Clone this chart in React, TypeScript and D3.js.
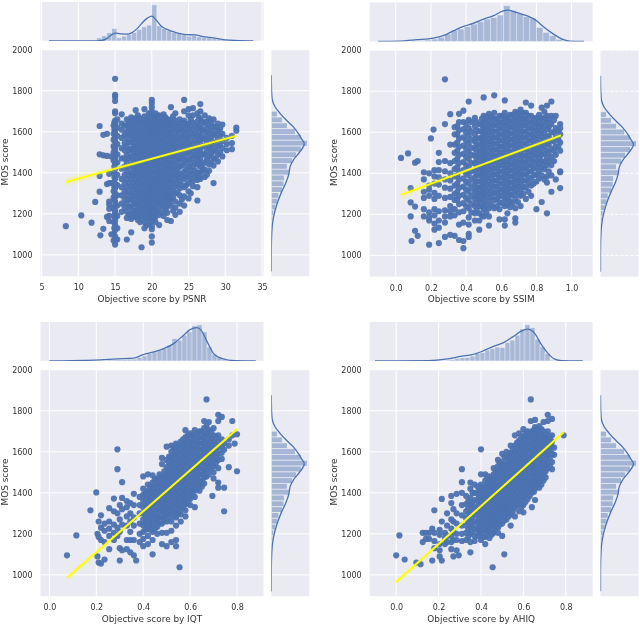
import React, { useEffect, useRef } from "react";
import * as d3 from "d3";

// each row: x value, then the MOS values read at that x
const psnrPoints: number[][] = [
  [8.3, 1140], [10.4, 1192], [11.8, 1157], [12.3, 1258], [12.9, 1628, 1490, 1385, 1308], [13, 1095], [13.4, 1585, 1485, 1127],
  [13.9, 1590, 1482, 1345, 1185], [14.2, 1395, 1350, 1260, 1245, 1225, 1190, 1165], [14.5, 1480, 1350, 1100],
  [14.8, 1630, 1590, 1560, 1530, 1500, 1460, 1400, 1350, 1310, 1280, 1230, 1160, 1100, 1070],
  [15, 1858, 1780, 1770, 1750, 1700, 1690, 1655, 1640, 1620, 1600, 1575, 1555, 1530, 1510, 1490, 1470, 1445, 1420, 1395, 1370, 1345, 1325, 1300, 1285, 1260, 1240, 1215, 1200, 1180, 1165, 1145, 1120, 1090, 1070, 1050],
  [15.3, 1660, 1620, 1580, 1540, 1490, 1450, 1390, 1340, 1290, 1240, 1190, 1130, 1075],
  [15.9, 1685, 1640, 1610, 1570, 1520, 1470, 1420, 1370, 1330, 1290, 1250, 1210],
  [16.6, 1660, 1630, 1600, 1570, 1530, 1490, 1450, 1410, 1370, 1330, 1290, 1250, 1210, 1180, 1075],
  [17.2, 1670, 1640, 1610, 1580, 1550, 1515, 1480, 1440, 1400, 1370, 1335, 1300, 1270, 1235, 1200, 1175, 1110],
  [17.8, 1705, 1665, 1635, 1605, 1575, 1545, 1515, 1485, 1455, 1425, 1395, 1365, 1335, 1305, 1275, 1245, 1215, 1185],
  [18.4, 1665, 1640, 1610, 1580, 1550, 1520, 1490, 1460, 1430, 1400, 1370, 1340, 1310, 1280, 1250, 1220, 1190, 1160],
  [18.6, 1037],
  [19, 1710, 1675, 1645, 1615, 1585, 1555, 1525, 1495, 1465, 1435, 1405, 1375, 1345, 1315, 1285, 1255, 1225, 1195, 1160, 1130],
  [19.6, 1690, 1660, 1630, 1600, 1570, 1540, 1510, 1480, 1450, 1420, 1390, 1360, 1330, 1300, 1270, 1240, 1210, 1180, 1150],
  [20, 1755, 1740, 1720, 1700, 1675, 1645, 1615, 1585, 1555, 1525, 1495, 1465, 1435, 1405, 1375, 1345, 1315, 1285, 1255, 1225, 1195, 1165, 1140, 1125, 1090, 1060],
  [20.5, 1690, 1660, 1630, 1600, 1570, 1540, 1510, 1480, 1450, 1420, 1390, 1360, 1330, 1300, 1270, 1240, 1210, 1185, 1160],
  [21, 1680, 1650, 1620, 1590, 1560, 1530, 1500, 1470, 1440, 1410, 1380, 1350, 1320, 1290, 1260, 1230, 1195, 1145],
  [21.6, 1685, 1655, 1625, 1595, 1565, 1535, 1505, 1475, 1445, 1415, 1385, 1355, 1325, 1295, 1265, 1235, 1190],
  [22.1, 1660, 1630, 1600, 1570, 1540, 1510, 1480, 1450, 1420, 1390, 1360, 1330, 1300, 1270, 1235, 1205, 1170],
  [22.6, 1720, 1660, 1630, 1600, 1570, 1540, 1510, 1480, 1450, 1420, 1390, 1360, 1330, 1300, 1270, 1240, 1165],
  [23.2, 1690, 1655, 1625, 1590, 1560, 1530, 1500, 1465, 1430, 1400, 1370, 1335, 1300, 1260, 1230, 1195],
  [23.8, 1660, 1630, 1600, 1565, 1530, 1495, 1465, 1430, 1395, 1360, 1325, 1290, 1250, 1210],
  [24.4, 1755, 1700, 1655, 1620, 1585, 1550, 1515, 1480, 1445, 1405, 1370, 1330, 1285, 1240],
  [25, 1710, 1680, 1640, 1610, 1575, 1540, 1500, 1465, 1430, 1390, 1350, 1310, 1275],
  [25.6, 1715, 1680, 1645, 1610, 1580, 1540, 1505, 1470, 1430, 1395, 1360, 1335],
  [26.2, 1690, 1650, 1615, 1580, 1545, 1510, 1475, 1440, 1400, 1365, 1330, 1265],
  [26.6, 1735, 1700, 1660, 1620, 1580, 1545, 1510, 1470, 1430, 1400, 1370],
  [27.2, 1680, 1640, 1600, 1565, 1530, 1490, 1450, 1415, 1380],
  [27.8, 1665, 1630, 1595, 1560, 1520, 1480, 1440, 1410],
  [28.4, 1660, 1620, 1585, 1545, 1505, 1470, 1435, 1350],
  [29, 1640, 1605, 1570, 1530, 1490, 1455],
  [29.6, 1635, 1590, 1555, 1520, 1480],
  [30.2, 1570, 1540, 1510],
  [30.9, 1580, 1545, 1515],
  [31.5, 1620, 1605],
];
// the solid part of the cloud
const psnrCore: number[][] = [
  [14.9, 1645, 1610, 1565, 1520, 1480, 1430, 1380, 1330, 1270, 1220, 1190, 1130],
  [16.3, 1630, 1585, 1545, 1510, 1470, 1430, 1390, 1350, 1310, 1270, 1230],
  [16.9, 1645, 1615, 1585, 1550, 1510, 1470, 1430, 1390, 1350, 1310, 1270, 1230, 1195],
  [17.5, 1655, 1625, 1595, 1565, 1530, 1500, 1460, 1420, 1385, 1350, 1320, 1285, 1250, 1215, 1190],
  [18.1, 1680, 1650, 1620, 1590, 1560, 1530, 1500, 1470, 1440, 1410, 1380, 1350, 1320, 1290, 1260, 1230, 1200, 1170],
  [18.7, 1650, 1625, 1595, 1565, 1535, 1505, 1475, 1445, 1415, 1385, 1355, 1325, 1295, 1265, 1235, 1205, 1175],
  [19.3, 1660, 1630, 1600, 1570, 1540, 1510, 1480, 1450, 1420, 1390, 1360, 1330, 1300, 1270, 1240, 1210, 1180, 1145],
  [19.8, 1675, 1645, 1615, 1585, 1555, 1525, 1495, 1465, 1435, 1405, 1375, 1345, 1315, 1285, 1255, 1225, 1195, 1165],
  [20.25, 1670, 1645, 1615, 1585, 1555, 1525, 1495, 1465, 1435, 1405, 1375, 1345, 1315, 1285, 1255, 1225, 1195, 1170],
  [20.75, 1675, 1645, 1615, 1585, 1555, 1525, 1495, 1465, 1435, 1405, 1375, 1345, 1315, 1285, 1255, 1215],
  [21.3, 1665, 1635, 1605, 1575, 1545, 1515, 1485, 1455, 1425, 1395, 1365, 1335, 1305, 1275, 1245, 1205],
  [21.85, 1670, 1640, 1610, 1580, 1550, 1520, 1490, 1460, 1430, 1400, 1370, 1340, 1310, 1280, 1250, 1220],
  [22.35, 1645, 1615, 1585, 1555, 1525, 1495, 1465, 1435, 1405, 1375, 1345, 1315, 1285, 1255],
  [22.9, 1675, 1645, 1610, 1575, 1545, 1515, 1480, 1445, 1415, 1385, 1350, 1315, 1280, 1215],
  [23.5, 1640, 1610, 1575, 1545, 1515, 1480, 1450, 1415, 1380, 1345, 1305],
  [24.1, 1645, 1610, 1575, 1540, 1505, 1470, 1435, 1385, 1340, 1270],
  [24.7, 1635, 1600, 1565, 1530, 1495, 1460, 1415, 1380, 1340],
  [25.3, 1660, 1625, 1590, 1555, 1520, 1485, 1445, 1410, 1370, 1300],
  [25.9, 1630, 1595, 1560, 1520, 1485, 1450, 1410, 1380],
  [26.4, 1670, 1630, 1595, 1560, 1525, 1490, 1455, 1380],
  [26.9, 1650, 1610, 1570, 1530, 1490, 1440, 1410],
  [27.5, 1650, 1615, 1580, 1545, 1505, 1465, 1390],
  [28.1, 1640, 1605, 1570, 1530, 1495, 1450],
  [28.7, 1625, 1590, 1550, 1515, 1470],
  [29.3, 1615, 1580, 1540, 1500],
];

const ssimPoints: number[][] = [
  [0.03, 1475], [0.07, 1497], [0.085, 1328, 1258, 1190], [0.09, 1070], [0.11, 1452, 1238, 1120], [0.125, 1460, 1095],
  [0.16, 1405, 1370, 1310, 1280, 1225, 1190], [0.19, 1400, 1340, 1320, 1290, 1210, 1185, 1170, 1052], [0.2, 1570], [0.215, 1613],
  [0.22, 1415, 1385, 1350, 1305, 1275, 1225, 1195, 1155, 1125], [0.245, 1500, 1455, 1415, 1380, 1345, 1290, 1215, 1170, 1135, 1060],
  [0.28, 1858, 1640, 1460, 1410, 1370, 1330, 1280, 1220, 1190, 1160, 1090], [0.31, 1688, 1540, 1450, 1400, 1365, 1325, 1285, 1240, 1215, 1190, 1100],
  [0.335, 1625, 1590, 1540, 1500, 1460, 1420, 1385, 1340, 1300, 1270, 1225, 1195, 1095],
  [0.36, 1690, 1650, 1610, 1570, 1530, 1490, 1450, 1410, 1370, 1330, 1290, 1250, 1210, 1150, 1075],
  [0.385, 1705, 1650, 1615, 1575, 1535, 1495, 1455, 1415, 1375, 1335, 1295, 1255, 1215, 1160, 1070, 1035],
  [0.415, 1750, 1660, 1620, 1585, 1545, 1505, 1470, 1430, 1390, 1350, 1310, 1270, 1230, 1185, 1150, 1105, 1090],
  [0.45, 1670, 1630, 1590, 1555, 1520, 1485, 1450, 1415, 1380, 1345, 1310, 1275, 1240, 1205, 1170],
  [0.475, 1640, 1605, 1570, 1540, 1510, 1480, 1450, 1420, 1390, 1360, 1330, 1300, 1270, 1240, 1205, 1170, 1125],
  [0.5, 1770, 1680, 1650, 1620, 1590, 1560, 1530, 1500, 1470, 1440, 1410, 1380, 1350, 1320, 1290, 1260, 1225, 1190],
  [0.53, 1690, 1660, 1630, 1600, 1570, 1540, 1510, 1480, 1450, 1420, 1390, 1360, 1330, 1300, 1265, 1230, 1190, 1145],
  [0.56, 1780, 1695, 1665, 1635, 1605, 1575, 1545, 1515, 1485, 1455, 1425, 1395, 1365, 1335, 1305, 1270, 1230],
  [0.59, 1680, 1650, 1620, 1590, 1560, 1530, 1500, 1470, 1440, 1410, 1380, 1350, 1320, 1290, 1260, 1225, 1175],
  [0.62, 1755, 1695, 1665, 1635, 1605, 1575, 1545, 1515, 1485, 1455, 1425, 1395, 1365, 1335, 1305, 1275, 1240, 1175, 1145],
  [0.65, 1685, 1655, 1625, 1595, 1565, 1535, 1505, 1475, 1445, 1415, 1385, 1355, 1325, 1295, 1265, 1235],
  [0.68, 1700, 1670, 1640, 1610, 1580, 1550, 1520, 1490, 1460, 1430, 1400, 1370, 1340, 1310, 1275, 1230, 1180, 1160],
  [0.71, 1710, 1680, 1650, 1620, 1590, 1560, 1530, 1500, 1470, 1440, 1410, 1380, 1350, 1320, 1290, 1240],
  [0.74, 1745, 1695, 1665, 1635, 1605, 1575, 1545, 1515, 1485, 1455, 1425, 1395, 1365, 1330, 1275],
  [0.77, 1730, 1680, 1650, 1620, 1590, 1560, 1530, 1500, 1470, 1440, 1410, 1375, 1340, 1290],
  [0.8, 1670, 1640, 1610, 1580, 1550, 1520, 1490, 1460, 1430, 1395, 1360, 1225],
  [0.83, 1720, 1670, 1640, 1610, 1580, 1550, 1520, 1490, 1460, 1430, 1390, 1260],
  [0.86, 1730, 1680, 1650, 1615, 1580, 1545, 1510, 1475, 1440, 1385, 1355, 1205],
  [0.885, 1750, 1680, 1640, 1600, 1560, 1520, 1480, 1440, 1390, 1310],
  [0.91, 1680, 1620, 1575, 1530, 1490, 1370],
  [0.935, 1640, 1620, 1590, 1550, 1510, 1410, 1405, 1328],
];
const ssimCore: number[][] = [
  [0.35, 1630, 1590, 1550, 1510, 1470, 1430, 1390, 1350, 1310, 1270],
  [0.4, 1640, 1600, 1560, 1520, 1480, 1440, 1400, 1360, 1320, 1280, 1240],
  [0.43, 1650, 1605, 1565, 1525, 1490, 1450, 1410, 1370, 1330, 1290, 1250, 1210],
  [0.46, 1650, 1610, 1570, 1535, 1500, 1465, 1430, 1395, 1360, 1325, 1290, 1255, 1220],
  [0.49, 1665, 1635, 1605, 1575, 1545, 1515, 1485, 1455, 1425, 1395, 1365, 1335, 1305, 1275, 1240, 1195],
  [0.515, 1675, 1645, 1615, 1585, 1555, 1525, 1495, 1465, 1435, 1405, 1375, 1345, 1315, 1285, 1245, 1210],
  [0.545, 1675, 1645, 1615, 1585, 1555, 1525, 1495, 1465, 1435, 1405, 1375, 1345, 1315, 1285, 1245],
  [0.575, 1665, 1635, 1605, 1575, 1545, 1515, 1485, 1455, 1425, 1395, 1365, 1335, 1305, 1275, 1240],
  [0.605, 1680, 1650, 1620, 1590, 1560, 1530, 1500, 1470, 1440, 1410, 1380, 1350, 1320, 1290, 1255],
  [0.635, 1670, 1640, 1610, 1580, 1550, 1520, 1490, 1460, 1430, 1400, 1370, 1340, 1310, 1280, 1250, 1205],
  [0.665, 1685, 1655, 1625, 1595, 1565, 1535, 1505, 1475, 1445, 1415, 1385, 1355, 1325, 1295, 1255],
  [0.695, 1695, 1665, 1635, 1605, 1575, 1545, 1515, 1485, 1455, 1425, 1395, 1365, 1335, 1300, 1260],
  [0.725, 1695, 1665, 1635, 1605, 1575, 1545, 1515, 1485, 1455, 1425, 1395, 1365, 1335, 1300],
  [0.755, 1680, 1650, 1620, 1590, 1560, 1530, 1500, 1470, 1440, 1410, 1380, 1350, 1310],
  [0.785, 1665, 1635, 1605, 1575, 1545, 1515, 1485, 1455, 1425, 1390, 1350],
  [0.815, 1685, 1655, 1625, 1595, 1565, 1535, 1505, 1475, 1445, 1410, 1375],
  [0.845, 1700, 1665, 1630, 1595, 1565, 1530, 1495, 1455, 1420, 1370],
  [0.87, 1660, 1625, 1580, 1540, 1500, 1460, 1410],
  [0.9, 1660, 1600, 1555, 1510, 1460],
  [0.925, 1605, 1565, 1530],
];

const iqtPoints: number[][] = [
  [0.075, 1095], [0.115, 1192], [0.175, 1315], [0.2, 1402], [0.205, 1200, 1090], [0.21, 1260, 1185, 1060], [0.22, 1290, 1230, 1170, 1055],
  [0.235, 1250, 1215, 1160, 1075], [0.255, 1325, 1260, 1225, 1190, 1125], [0.275, 1372, 1310, 1245, 1205, 1170],
  [0.29, 1612, 1515, 1300, 1230, 1190], [0.3, 1340, 1270, 1210, 1130, 1070], [0.31, 1452, 1375, 1320, 1245, 1120],
  [0.33, 1360, 1330, 1285, 1240, 1170, 1125], [0.345, 1350, 1300, 1260, 1210, 1170, 1110], [0.36, 1395, 1340, 1280, 1240, 1170, 1095], [0.37, 1070],
  [0.385, 1380, 1340, 1300, 1250, 1200, 1160], [0.4, 1480, 1420, 1390, 1360, 1330, 1300, 1270, 1240, 1210, 1175, 1140],
  [0.42, 1490, 1440, 1410, 1380, 1350, 1320, 1290, 1260, 1230, 1190, 1150],
  [0.44, 1485, 1450, 1420, 1390, 1360, 1330, 1300, 1270, 1240, 1210, 1170, 1100],
  [0.46, 1470, 1440, 1410, 1380, 1350, 1320, 1290, 1265, 1235, 1200],
  [0.48, 1570, 1540, 1480, 1450, 1420, 1390, 1360, 1335, 1310, 1280, 1250, 1205, 1150],
  [0.5, 1625, 1560, 1525, 1495, 1465, 1435, 1405, 1375, 1345, 1320, 1290, 1260, 1205, 1140],
  [0.52, 1630, 1600, 1570, 1540, 1510, 1480, 1450, 1420, 1390, 1360, 1330, 1300, 1260, 1215, 1160],
  [0.54, 1640, 1610, 1580, 1550, 1520, 1490, 1460, 1430, 1400, 1370, 1340, 1310, 1280, 1240, 1170, 1140],
  [0.555, 1037],
  [0.56, 1650, 1620, 1590, 1560, 1530, 1500, 1470, 1440, 1410, 1380, 1350, 1320, 1295, 1260],
  [0.58, 1705, 1670, 1640, 1610, 1580, 1550, 1520, 1490, 1460, 1430, 1400, 1370, 1345, 1315, 1285],
  [0.6, 1690, 1665, 1635, 1605, 1575, 1545, 1515, 1485, 1455, 1425, 1400, 1370, 1340],
  [0.62, 1705, 1675, 1645, 1615, 1585, 1555, 1525, 1495, 1465, 1435, 1410, 1380, 1330],
  [0.64, 1700, 1670, 1640, 1610, 1580, 1550, 1520, 1490, 1460, 1435, 1410],
  [0.66, 1750, 1715, 1685, 1655, 1625, 1595, 1565, 1535, 1505, 1475, 1445],
  [0.67, 1855],
  [0.68, 1745, 1705, 1675, 1645, 1615, 1585, 1555, 1525, 1490],
  [0.695, 1385],
  [0.7, 1715, 1680, 1650, 1620, 1590, 1560, 1530, 1500, 1470],
  [0.72, 1780, 1750, 1680, 1650, 1620, 1590, 1560, 1520, 1450, 1425],
  [0.735, 1770, 1660, 1625, 1595, 1565],
  [0.745, 1640, 1610, 1425, 1310],
  [0.765, 1660, 1630, 1525],
  [0.78, 1750, 1680],
  [0.79, 1640],
  [0.8, 1685, 1505],
];
const iqtCore: number[][] = [
  [0.41, 1400, 1370, 1340, 1310, 1280, 1250, 1220],
  [0.43, 1430, 1400, 1370, 1340, 1310, 1280, 1250, 1220],
  [0.45, 1465, 1435, 1405, 1375, 1345, 1315, 1285, 1255, 1225],
  [0.47, 1490, 1460, 1430, 1400, 1370, 1340, 1310, 1280, 1250],
  [0.49, 1505, 1475, 1445, 1415, 1385, 1355, 1325, 1295, 1265],
  [0.51, 1575, 1545, 1515, 1485, 1455, 1425, 1395, 1365, 1335, 1305, 1275],
  [0.53, 1620, 1585, 1555, 1525, 1495, 1465, 1435, 1405, 1375, 1345, 1315, 1285],
  [0.55, 1630, 1600, 1570, 1540, 1510, 1480, 1450, 1420, 1390, 1360, 1330, 1300],
  [0.57, 1660, 1630, 1600, 1570, 1540, 1510, 1480, 1450, 1420, 1390, 1360, 1330],
  [0.59, 1680, 1650, 1620, 1590, 1560, 1530, 1500, 1470, 1440, 1410, 1380, 1350],
  [0.61, 1680, 1650, 1620, 1590, 1560, 1530, 1500, 1470, 1440, 1410, 1385],
  [0.63, 1690, 1660, 1630, 1600, 1570, 1540, 1510, 1480, 1450, 1420],
  [0.65, 1700, 1670, 1640, 1610, 1580, 1550, 1520, 1490, 1460, 1430],
  [0.67, 1725, 1690, 1660, 1630, 1600, 1570, 1540, 1510, 1480],
  [0.69, 1700, 1665, 1635, 1605, 1575, 1545, 1515],
  [0.71, 1670, 1635, 1605, 1575, 1545],
];

const ahiqPoints: number[][] = [
  [0, 1095], [0.015, 1192], [0.04, 1075], [0.095, 1060], [0.115, 1052], [0.125, 1205, 1160], [0.14, 1205, 1175], [0.155, 1205, 1175],
  [0.17, 1225, 1070], [0.18, 1315, 1205, 1165, 1130], [0.205, 1220, 1195, 1150, 1120, 1090], [0.215, 1370, 1260, 1070],
  [0.23, 1205, 1180, 1150], [0.24, 1300, 1240, 1190, 1160], [0.26, 1385, 1350, 1270, 1225, 1190, 1160, 1125],
  [0.27, 1320, 1260, 1210, 1170, 1090], [0.285, 1395, 1300, 1250, 1200, 1170, 1120], [0.295, 1095],
  [0.31, 1515, 1452, 1400, 1340, 1290, 1240, 1200, 1165], [0.33, 1385, 1345, 1310, 1275, 1240, 1205, 1170],
  [0.35, 1450, 1420, 1375, 1340, 1305, 1270, 1235, 1200, 1160, 1110],
  [0.37, 1440, 1400, 1365, 1330, 1295, 1260, 1225, 1190, 1165],
  [0.385, 1430, 1395, 1360, 1325, 1290, 1255, 1220, 1190],
  [0.4, 1612, 1490, 1440, 1410, 1380, 1350, 1320, 1290, 1260, 1230, 1200, 1170],
  [0.42, 1490, 1460, 1430, 1400, 1370, 1340, 1310, 1280, 1250, 1220, 1185, 1150],
  [0.44, 1480, 1450, 1420, 1390, 1360, 1330, 1300, 1270, 1240, 1210, 1180],
  [0.455, 1037],
  [0.46, 1520, 1490, 1460, 1430, 1400, 1370, 1340, 1310, 1280, 1250, 1220, 1205],
  [0.48, 1560, 1530, 1500, 1470, 1440, 1410, 1380, 1350, 1320, 1290, 1260, 1230, 1205],
  [0.5, 1590, 1550, 1520, 1490, 1460, 1430, 1400, 1370, 1340, 1310, 1280, 1250, 1190],
  [0.51, 1100],
  [0.52, 1600, 1570, 1540, 1510, 1480, 1450, 1420, 1390, 1360, 1330, 1300, 1270],
  [0.54, 1630, 1595, 1565, 1535, 1505, 1475, 1445, 1415, 1385, 1355, 1325, 1295, 1240],
  [0.56, 1680, 1630, 1600, 1570, 1540, 1510, 1480, 1450, 1420, 1390, 1360, 1330, 1285],
  [0.58, 1690, 1655, 1625, 1595, 1565, 1535, 1505, 1475, 1445, 1415, 1385, 1350, 1310],
  [0.6, 1710, 1675, 1645, 1615, 1585, 1555, 1525, 1495, 1465, 1435, 1405, 1375, 1340, 1305],
  [0.62, 1700, 1670, 1640, 1610, 1580, 1550, 1520, 1490, 1460, 1430, 1400, 1370],
  [0.635, 1855, 1750],
  [0.64, 1700, 1670, 1640, 1610, 1580, 1550, 1520, 1490, 1460, 1430, 1400, 1330],
  [0.655, 1755, 1720, 1690, 1660, 1630, 1600, 1570, 1540, 1510, 1480, 1450, 1420, 1365],
  [0.675, 1725, 1695, 1665, 1635, 1605, 1575, 1545, 1515, 1485, 1455, 1425],
  [0.695, 1745, 1700, 1670, 1640, 1610, 1580, 1550, 1520, 1490, 1460],
  [0.715, 1780, 1750, 1700, 1670, 1640, 1610, 1580, 1550, 1520],
  [0.735, 1760, 1680, 1650, 1625, 1590, 1550, 1515],
  [0.745, 1620, 1585],
  [0.79, 1680],
];
const ahiqCore: number[][] = [
  [0.34, 1360, 1325, 1290, 1255, 1220, 1185],
  [0.36, 1400, 1350, 1315, 1280, 1245, 1210],
  [0.39, 1410, 1375, 1340, 1305, 1270, 1235, 1205],
  [0.41, 1425, 1395, 1365, 1335, 1305, 1275, 1245, 1215, 1185],
  [0.43, 1475, 1445, 1415, 1385, 1355, 1325, 1295, 1265, 1235, 1205],
  [0.45, 1465, 1435, 1405, 1375, 1345, 1315, 1285, 1255, 1225, 1195],
  [0.47, 1505, 1475, 1445, 1415, 1385, 1355, 1325, 1295, 1265, 1235],
  [0.49, 1545, 1515, 1485, 1455, 1425, 1395, 1365, 1335, 1305, 1275, 1245],
  [0.51, 1575, 1535, 1505, 1475, 1445, 1415, 1385, 1355, 1325, 1295, 1265],
  [0.53, 1585, 1555, 1525, 1495, 1465, 1435, 1405, 1375, 1345, 1315, 1285],
  [0.55, 1615, 1585, 1555, 1525, 1495, 1465, 1435, 1405, 1375, 1345, 1310],
  [0.57, 1645, 1615, 1585, 1555, 1525, 1495, 1465, 1435, 1405, 1375, 1340],
  [0.59, 1670, 1640, 1610, 1580, 1550, 1520, 1490, 1460, 1430, 1400, 1365, 1330],
  [0.61, 1690, 1660, 1630, 1600, 1570, 1540, 1510, 1480, 1450, 1420, 1390, 1355],
  [0.63, 1685, 1655, 1625, 1595, 1565, 1535, 1505, 1475, 1445, 1415, 1385],
  [0.65, 1705, 1675, 1645, 1615, 1585, 1555, 1525, 1495, 1465, 1435, 1405],
  [0.665, 1710, 1680, 1650, 1620, 1590, 1560, 1530, 1500, 1470, 1440],
  [0.685, 1710, 1680, 1650, 1620, 1590, 1560, 1530, 1500, 1470, 1440],
  [0.705, 1685, 1655, 1625, 1595, 1565, 1535, 1505, 1475],
  [0.725, 1665, 1635, 1605, 1570, 1530],
];

const mosHistTop = 1700;
const mosHistWidth = 28.3;
const mosHist = [60, 110, 160, 240, 300, 360, 300, 250, 210, 160, 180, 130, 125, 110, 75, 65, 45, 25, 15, 8];
const mosKde = [[1876, 0], [1795, 3], [1755, 10], [1722, 37], [1690, 87], [1657, 150], [1624, 220], [1592, 270], [1568, 300], [1540, 330], [1503, 287], [1462, 220], [1429, 187], [1397, 177], [1356, 150], [1307, 103], [1242, 53], [1178, 20], [1112, 5], [1015, 0], [920, 0]];

const psnrHist = [30, 50, 80, 123, 30, 47, 63, 83, 113, 140, 157, 360, 150, 123, 100, 83, 73, 60, 47, 53, 40, 33, 30, 23, 17, 13, 10, 7, 5, 3, 2];
const ssimHist = [5, 8, 13, 23, 40, 73, 107, 123, 147, 173, 197, 223, 240, 263, 357, 307, 280, 247, 233, 140, 90, 57, 20, 5];
const iqtHist = [10, 10, 13, 13, 17, 17, 33, 50, 73, 90, 107, 123, 157, 223, 207, 257, 290, 350, 360, 290, 140, 67, 40, 17, 7];
const ahiqHist = [7, 13, 23, 30, 33, 47, 73, 83, 107, 123, 137, 133, 183, 207, 257, 320, 360, 330, 217, 140, 73, 7];

const psnrKde = [[6, 0], [10, 0.5], [12, 1], [12.96, 3], [13.87, 23], [14.55, 63], [15.14, 77], [15.9, 70], [16.6, 67], [17.3, 83], [18, 123], [18.6, 173], [19.3, 223], [20, 247], [20.7, 200], [21.3, 147], [22, 117], [22.7, 97], [23.4, 80], [24, 70], [24.7, 63], [25.9, 60], [27, 43], [28.4, 30], [29.7, 13], [30.6, 7], [32, 2], [33.8, 0]];
const ssimKde = [[-0.1, 0], [0.024, 3], [0.12, 17], [0.214, 33], [0.27, 57], [0.33, 107], [0.385, 150], [0.44, 180], [0.5, 223], [0.557, 257], [0.604, 300], [0.64, 313], [0.69, 287], [0.745, 257], [0.8, 207], [0.84, 147], [0.897, 73], [0.954, 17], [0.99, 3], [1.07, 0]];
const iqtKde = [[0, 0], [0.05, 1], [0.15, 5], [0.217, 10], [0.288, 20], [0.359, 27], [0.4, 63], [0.445, 90], [0.487, 123], [0.53, 173], [0.572, 257], [0.6, 313], [0.628, 333], [0.645, 313], [0.673, 190], [0.7, 73], [0.737, 23], [0.79, 3], [0.88, 0]];
const ahiqKde = [[-0.1, 0], [0.154, 3], [0.233, 17], [0.31, 47], [0.36, 63], [0.41, 100], [0.457, 143], [0.504, 180], [0.55, 240], [0.59, 297], [0.62, 317], [0.654, 273], [0.685, 163], [0.717, 73], [0.748, 17], [0.78, 3], [0.88, 0]];

const mosTicks = [1000, 1200, 1400, 1600, 1800, 2000];
const psnrTicks = [5, 10, 15, 20, 25, 30, 35];
const ssimTicks = [0, 0.2, 0.4, 0.6, 0.8, 1];
const iqtTicks = [0, 0.2, 0.4, 0.6, 0.8];

const BLUE = "#4c72b0";
const BG = "#eaeaf2";

type PanelCfg = {
  label: string; points: number[][]; hist: number[]; histStart: number; histWidth: number; kde: number[][];
  ticks: number[]; fmt: string; xDomain: [number, number]; fit: number[][]; ci: number[];
  left: number; top: number; dashedMargin?: boolean;
};

const panels: PanelCfg[] = [
  { label: "Objective score by PSNR", points: [...psnrPoints, ...psnrCore], hist: psnrHist, histStart: 12.51, histWidth: 0.68, kde: psnrKde, ticks: psnrTicks, fmt: "d", xDomain: [4.85, 35.2], fit: [[8.3, 1355], [31.5, 1580]], ci: [22, 6, 14], left: 40.5, top: 49.7 },
  { label: "Objective score by SSIM", points: [...ssimPoints, ...ssimCore], hist: ssimHist, histStart: 0.091, histWidth: 0.0373, kde: ssimKde, ticks: ssimTicks, fmt: ".1f", xDomain: [-0.148, 1.12], fit: [[0.03, 1295], [0.94, 1585]], ci: [22, 6, 12], left: 369.7, top: 50.2, dashedMargin: true },
  { label: "Objective score by IQT", points: [...iqtPoints, ...iqtCore], hist: iqtHist, histStart: 0.246, histWidth: 0.0213, kde: iqtKde, ticks: iqtTicks, fmt: ".1f", xDomain: [-0.038, 0.913], fit: [[0.075, 985], [0.8, 1710]], ci: [16, 4, 10], left: 40.5, top: 369.7 },
  { label: "Objective score by AHIQ", points: [...ahiqPoints, ...ahiqCore], hist: ahiqHist, histStart: 0.23, histWidth: 0.0236, kde: ahiqKde, ticks: iqtTicks, fmt: ".1f", xDomain: [-0.125, 0.927], fit: [[0, 965], [0.79, 1695]], ci: [14, 4, 10], left: 369.7, top: 369.7 },
];

const W = 223;
const H = 226.5;
const TOP_H = 39;
const TOP_GAP = 8.8;
const RIGHT_W = 38;
const RIGHT_GAP = 7.8;

function drawPanel(root: d3.Selection<SVGGElement, unknown, null, undefined>, p: PanelCfg, idx: number) {
  const g = root.append("g").attr("transform", `translate(${p.left},${p.top})`);
  const x = d3.scaleLinear().domain(p.xDomain).range([0, W]);
  const y = d3.scaleLinear().domain([896, 2000]).range([H, 0]);
  const countTop = d3.scaleLinear().domain([0, 390]).range([0, -TOP_H]);
  const countRight = d3.scaleLinear().domain([0, 380]).range([0, RIGHT_W]);

  // joint axes
  g.append("rect").attr("width", W).attr("height", H).attr("fill", BG);
  g.append("g").selectAll("line").data(p.ticks).join("line")
    .attr("x1", (d) => x(d)).attr("x2", (d) => x(d)).attr("y1", 0).attr("y2", H)
    .attr("stroke", "#fff").attr("stroke-width", 1);
  g.append("g").selectAll("line").data(mosTicks).join("line")
    .attr("x1", 0).attr("x2", W).attr("y1", (d) => y(d)).attr("y2", (d) => y(d))
    .attr("stroke", "#fff").attr("stroke-width", 1);

  const pts = p.points.flatMap(([px, ...ys]) => ys.map((v) => [px, v]));
  g.append("g").selectAll("circle").data(pts).join("circle")
    .attr("cx", (d) => x(d[0])).attr("cy", (d) => y(d[1])).attr("r", 3.1)
    .attr("fill", BLUE).attr("fill-opacity", 0.95);

  const [a, b] = p.fit;
  const midX = (a[0] + b[0]) / 2;
  const band = [
    [a[0], a[1], p.ci[0]],
    [midX, (a[1] + b[1]) / 2, p.ci[1]],
    [b[0], b[1], p.ci[2]],
  ];
  g.append("path")
    .attr("d", d3.area<number[]>().x((d) => x(d[0])).y0((d) => y(d[1] - d[2])).y1((d) => y(d[1] + d[2]))(band))
    .attr("fill", "#ffff00").attr("fill-opacity", 0.15);
  g.append("path")
    .attr("d", d3.line<number[]>().x((d) => x(d[0])).y((d) => y(d[1]))(p.fit))
    .attr("stroke", "#ffff00").attr("stroke-width", 2).attr("fill", "none");

  // axes, only labels are kept
  const xAxis = g.append("g").attr("transform", `translate(0,${H})`)
    .call(d3.axisBottom(x).tickValues(p.ticks).tickSize(0).tickPadding(8.5).tickFormat(d3.format(p.fmt) as any));
  const yAxis = g.append("g")
    .call(d3.axisLeft(y).tickValues(mosTicks).tickSize(0).tickPadding(8).tickFormat(d3.format("d") as any));
  [xAxis, yAxis].forEach((ax) => {
    ax.select(".domain").remove();
    ax.selectAll("text").attr("font-size", 8).attr("fill", "#333").attr("font-family", "DejaVu Sans");
  });
  g.append("text").attr("x", W / 2).attr("y", H + 25.5).attr("text-anchor", "middle")
    .attr("font-size", 8.9).attr("fill", "#333").attr("font-family", "DejaVu Sans").text(p.label);
  g.append("text").attr("transform", `translate(${-32.5},${H / 2 - 1}) rotate(-90)`).attr("text-anchor", "middle")
    .attr("font-size", 8.9).attr("fill", "#333").attr("font-family", "DejaVu Sans").text("MOS score");

  // the curves sit half outside the marginal axes at their tails, same as the source
  const clipTop = `clip-top-${idx}`;
  const clipRight = `clip-right-${idx}`;
  const defs = g.append("defs");
  defs.append("clipPath").attr("id", clipTop).append("rect").attr("y", -TOP_H).attr("width", W).attr("height", TOP_H);
  defs.append("clipPath").attr("id", clipRight).append("rect").attr("width", RIGHT_W).attr("height", H);

  // top marginal
  const top = g.append("g").attr("transform", `translate(0,${-TOP_GAP})`);
  top.append("rect").attr("y", -TOP_H).attr("width", W).attr("height", TOP_H).attr("fill", BG);
  top.selectAll("line").data(p.ticks).join("line")
    .attr("x1", (d) => x(d)).attr("x2", (d) => x(d)).attr("y1", -TOP_H).attr("y2", 0)
    .attr("stroke", "#fff").attr("stroke-width", 1);
  top.selectAll("rect.bar").data(p.hist).join("rect").attr("class", "bar")
    .attr("x", (_, i) => x(p.histStart + i * p.histWidth))
    .attr("width", x(p.histWidth) - x(0))
    .attr("y", (d) => countTop(d)).attr("height", (d) => -countTop(d))
    .attr("fill", BLUE).attr("fill-opacity", 0.42).attr("stroke", "#fff").attr("stroke-opacity", 0.4).attr("stroke-width", 0.8);
  top.append("path").attr("clip-path", `url(#${clipTop})`)
    .attr("d", d3.line<number[]>().x((d) => x(d[0])).y((d) => countTop(d[1])).curve(d3.curveMonotoneX)(p.kde))
    .attr("stroke", BLUE).attr("stroke-width", 1.3).attr("fill", "none");

  // right marginal
  const right = g.append("g").attr("transform", `translate(${W + RIGHT_GAP},0)`);
  right.append("rect").attr("width", RIGHT_W).attr("height", H).attr("fill", BG);
  right.selectAll("line").data(mosTicks).join("line")
    .attr("x1", 0).attr("x2", RIGHT_W).attr("y1", (d) => y(d)).attr("y2", (d) => y(d))
    .attr("stroke", "#fff").attr("stroke-width", 1).attr("stroke-dasharray", p.dashedMargin ? "3 2" : null);
  right.selectAll("rect.bar").data(mosHist).join("rect").attr("class", "bar")
    .attr("y", (_, i) => y(mosHistTop - i * mosHistWidth))
    .attr("height", y(0) - y(mosHistWidth))
    .attr("x", 0).attr("width", (d) => countRight(d))
    .attr("fill", BLUE).attr("fill-opacity", 0.45).attr("stroke", "#fff").attr("stroke-opacity", 0.5).attr("stroke-width", 1);
  right.append("path").attr("clip-path", `url(#${clipRight})`)
    .attr("d", d3.line<number[]>().x((d) => countRight(d[1])).y((d) => y(d[0])).curve(d3.curveMonotoneY)(mosKde))
    .attr("stroke", BLUE).attr("stroke-width", 1.3).attr("fill", "none");
}

export default function App() {
  const ref = useRef<SVGGElement>(null);

  useEffect(() => {
    const root = d3.select(ref.current!);
    root.selectAll("*").remove();
    panels.forEach((p, i) => drawPanel(root as any, p, i));
  }, []);

  return (
    <svg width={640} height={624} style={{ position: "absolute", left: 0, top: 0 }}>
      <defs>
        <filter id="soft" filterUnits="userSpaceOnUse" x="0" y="0" width="640" height="624">
          <feGaussianBlur stdDeviation="0.5" />
        </filter>
      </defs>
      <rect width={640} height={624} fill="#fff" />
      <g ref={ref} filter="url(#soft)" />
    </svg>
  );
}
